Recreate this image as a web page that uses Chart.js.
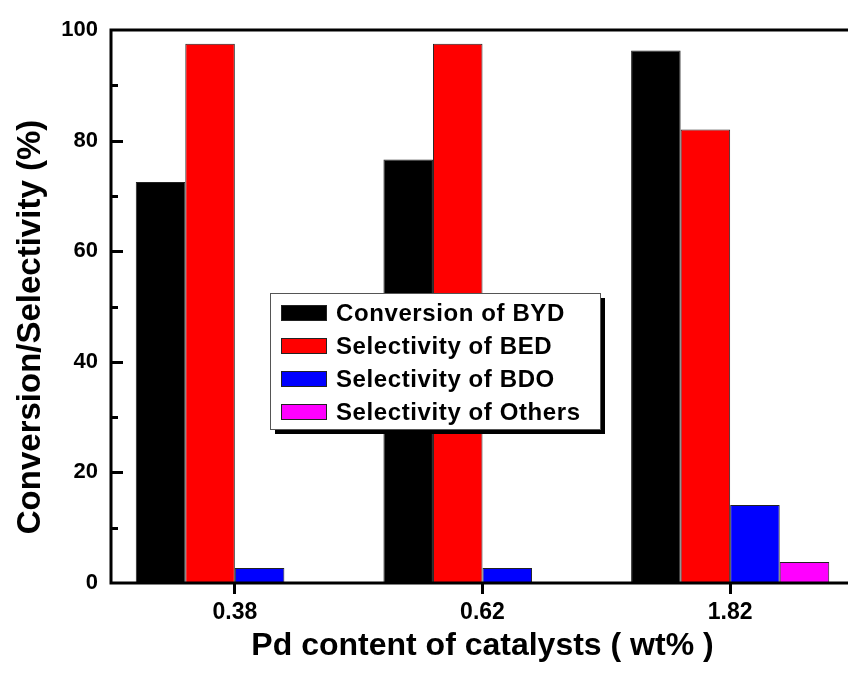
<!DOCTYPE html>
<html>
<head>
<meta charset="utf-8">
<script src="https://cdn.jsdelivr.net/npm/chart.js@4/dist/chart.umd.min.js"></script>
<style>
  html, body { margin: 0; padding: 0; background: #fff; overflow: hidden; }
  #wrap { width: 870px; height: 677px; position: relative; }
</style>
</head>
<body>
<div id="wrap"><canvas id="c"></canvas></div>
<script>
// Pd loading of the catalysts (wt%)
const categories = ['0.38', '0.62', '1.82'];

// Conversion / selectivity values (%)
const conversionBYD = [72.5, 76.6, 96.3];
const selectivityBED = [97.5, 97.5, 82.0];
const selectivityBDO = [2.7, 2.7, 14.1];
const selectivityOthers = [0, 0, 3.8];

const seriesLabels = ['Conversion of BYD', 'Selectivity of BED', 'Selectivity of BDO', 'Selectivity of Others'];
const seriesColors = ['#000000', '#ff0000', '#0000ff', '#ff00ff'];

const yTickValues = [0, 20, 40, 60, 80, 100];
const xTitle = 'Pd content of catalysts ( wt% )';
const yTitle = 'Conversion/Selectivity (%)';

const FONT = '"Liberation Sans", Arial, sans-serif';

const seriesValues = [conversionBYD, selectivityBED, selectivityBDO, selectivityOthers];

const frameAndDecor = {
  id: 'frameAndDecor',
  afterDatasetsDraw(chart) {
    const ctx = chart.ctx;
    const a = chart.chartArea;
    const y = chart.scales.y;
    ctx.save();
    // plot frame
    ctx.strokeStyle = '#000';
    ctx.lineWidth = 3;
    ctx.strokeRect(a.left, a.top, a.right - a.left, a.bottom - a.top);
    // inward y ticks: major every 20, minor every 10
    ctx.lineWidth = 3;
    for (let v = 10; v < 100; v += 10) {
      const py = Math.round(y.getPixelForValue(v)) + 0.5;
      const len = (v % 20 === 0) ? 12 : 7;
      ctx.beginPath();
      ctx.moveTo(a.left, py);
      ctx.lineTo(a.left + len, py);
      ctx.stroke();
    }
    // legend box with drop shadow
    const bx = 270, by = 293, bw = 330, bh = 136;
    ctx.fillStyle = '#000';
    ctx.fillRect(bx + 5, by + 5, bw, bh);
    ctx.fillStyle = '#fff';
    ctx.fillRect(bx, by, bw, bh);
    ctx.lineWidth = 1;
    ctx.strokeStyle = '#555';
    ctx.strokeRect(bx + 0.5, by + 0.5, bw, bh);
    ctx.font = 'bold 24px ' + FONT;
    if ('letterSpacing' in ctx) ctx.letterSpacing = '0.6px';
    ctx.textBaseline = 'middle';
    ctx.textAlign = 'left';
    chart.data.datasets.forEach((ds, i) => {
      const cy = by + 20 + i * 33;
      ctx.fillStyle = ds.backgroundColor;
      ctx.fillRect(281, cy - 7.5, 46, 15);
      ctx.strokeStyle = '#222';
      ctx.strokeRect(281.5, cy - 7.5, 45, 15);
      ctx.fillStyle = '#000';
      ctx.fillText(ds.label, 336, cy + 1);
    });
    if ('letterSpacing' in ctx) ctx.letterSpacing = '0px';
    // axis titles
    ctx.fillStyle = '#000';
    ctx.font = 'bold 32px ' + FONT;
    ctx.textAlign = 'center';
    ctx.textBaseline = 'alphabetic';
    ctx.fillText(xTitle, (a.left + a.right) / 2, 655);
    ctx.font = 'bold 33px ' + FONT;
    ctx.translate(40, 327);
    ctx.rotate(-Math.PI / 2);
    ctx.fillText(yTitle, 0, 0);
    ctx.restore();
  }
};

new Chart(document.getElementById('c'), {
  type: 'bar',
  data: {
    labels: categories,
    datasets: seriesValues.map((vals, i) => ({
      label: seriesLabels[i],
      data: vals,
      backgroundColor: seriesColors[i],
      borderColor: '#222',
      borderWidth: 1,
      borderSkipped: 'bottom',
      categoryPercentage: 0.8,
      barPercentage: 1.0
    }))
  },
  options: {
    responsive: true,
    maintainAspectRatio: false,
    animation: false,
    layout: { padding: { top: 30, right: 16, left: 0, bottom: 0 } },
    plugins: { legend: { display: false }, tooltip: { enabled: false } },
    scales: {
      x: {
        type: 'category',
        offset: true,
        afterFit: (s) => { s.height = 94; },
        grid: { display: true, drawOnChartArea: false, drawTicks: true, tickLength: 11, tickWidth: 3, tickColor: '#000', offset: false },
        border: { display: false },
        ticks: { color: '#000', font: { family: FONT, size: 23, weight: 'bold' }, padding: 5, maxRotation: 0 }
      },
      y: {
        min: 0,
        max: 100,
        afterFit: (s) => { s.width = 111; },
        afterBuildTicks: (s) => { s.ticks = yTickValues.map(v => ({ value: v })); },
        grid: { display: false, drawTicks: false },
        border: { display: false },
        ticks: { color: '#000', font: { family: FONT, size: 22, weight: 'bold' }, padding: 13 }
      }
    }
  },
  plugins: [frameAndDecor]
});
</script>
</body>
</html>
